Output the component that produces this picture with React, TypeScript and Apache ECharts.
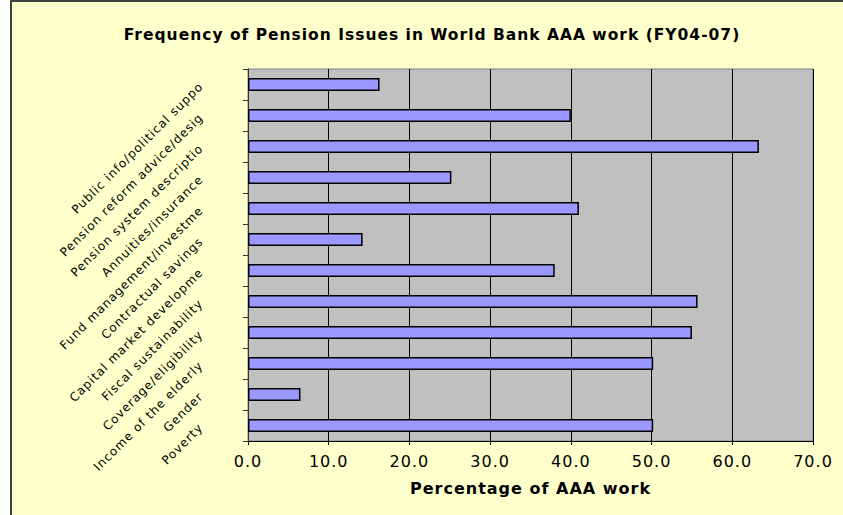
import React, { useEffect, useRef } from "react";
import * as echarts from "echarts";

const categories = [
  "Public info/political suppo",
  "Pension reform advice/desig",
  "Pension system descriptio",
  "Annuities/insurance",
  "Fund management/investme",
  "Contractual savings",
  "Capital market developme",
  "Fiscal sustainability",
  "Coverage/eligibility",
  "Income of the elderly",
  "Gender",
  "Poverty",
];

const values = [16.3, 40.0, 63.3, 25.2, 41.0, 14.2, 38.0, 55.7, 55.0, 50.2, 6.5, 50.2];

const xTicks = { min: 0, max: 70, interval: 10 };

const titleText = "Frequency of Pension Issues in World Bank AAA work (FY04-07)";
const xAxisName = "Percentage of AAA work";

const FONT = "'DejaVu Sans', Verdana, sans-serif";

export default function App() {
  const ref = useRef<HTMLDivElement>(null);
  useEffect(() => {
    if (!ref.current) return;
    const chart = echarts.init(ref.current, null, { renderer: "svg" });
    chart.setOption({
      animation: false,
      backgroundColor: "#ffffff",
      graphic: [
        {
          type: "rect",
          z: -10,
          shape: { x: 11, y: 1, width: 900, height: 600 },
          style: { fill: "#FFFFCC", stroke: "#404040", lineWidth: 2 },
          silent: true,
        },
      ],
      title: {
        text: titleText,
        left: 427,
        textAlign: "center",
        top: 22,
        textStyle: {
          fontFamily: FONT,
          fontSize: 15.5,
          fontWeight: "bold",
          color: "#000",
        },
      },
      grid: {
        left: 248,
        right: 30,
        top: 69,
        bottom: 74,
        show: true,
        backgroundColor: "#C0C0C0",
        borderColor: "#808080",
        borderWidth: 1,
      },
      xAxis: {
        type: "value",
        min: xTicks.min,
        max: xTicks.max,
        interval: xTicks.interval,
        name: xAxisName,
        nameLocation: "middle",
        nameGap: 39,
        nameTextStyle: {
          fontFamily: FONT,
          fontSize: 16,
          fontWeight: "bold",
          color: "#000",
        },
        axisLine: { show: true, lineStyle: { color: "#000", width: 1 } },
        axisTick: { show: true, length: 4, lineStyle: { color: "#000" } },
        axisLabel: {
          margin: 12,
          fontFamily: FONT,
          fontSize: 16,
          color: "#000",
          formatter: (v: number) => v.toFixed(1),
        },
        splitLine: { show: true, lineStyle: { color: "#000", width: 1 } },
      },
      yAxis: {
        type: "category",
        data: categories,
        inverse: true,
        axisLine: { show: true, lineStyle: { color: "#333", width: 1 } },
        axisTick: { show: true, length: 5, lineStyle: { color: "#333" } },
        axisLabel: {
          rotate: 45,
          margin: 47,
          fontFamily: FONT,
          fontSize: 12,
          color: "#000",
        },
        splitLine: { show: false },
      },
      series: [
        {
          type: "bar",
          data: values,
          barWidth: 13,
          itemStyle: { color: "#9999FF", borderColor: "#000", borderWidth: 1.5 },
        },
      ],
    });
    return () => chart.dispose();
  }, []);
  return (
    <>
      <style>{"#chart svg text { letter-spacing: 1px; }"}</style>
      <div
        id="chart"
        ref={ref}
        style={{ position: "fixed", left: 0, top: 0, width: 843, height: 515 }}
      />
    </>
  );
}
